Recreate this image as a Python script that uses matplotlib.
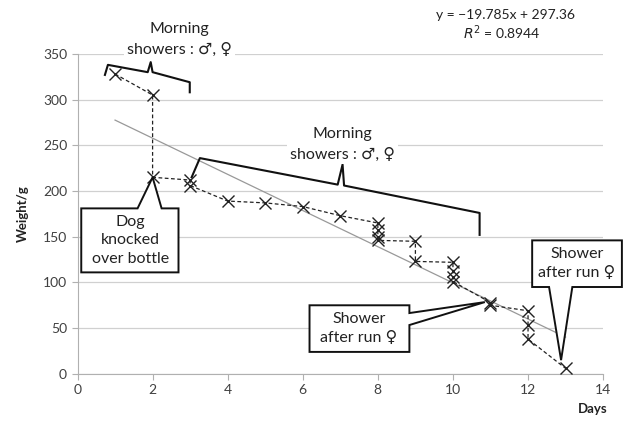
import matplotlib.pyplot as plt
from matplotlib.patches import Polygon

plt.rcParams["font.family"] = ["Lato", "DejaVu Sans"]

# 측정 데이터 (일, 무게)
days = [1, 2, 2, 3, 3, 4, 5, 6, 7, 8, 8, 8, 8, 9, 9, 10, 10, 10, 10, 11, 11, 12, 12, 12, 13]
weights = [328, 305, 215, 212, 206, 189, 187, 183, 173, 165, 157, 150, 146,
           145, 123, 122, 113, 106, 101, 78, 75, 69, 53, 38, 6]

# 추세선 계수
slope, intercept = -19.785, 297.36
trend_x = [1, 13]

xticks = [0, 2, 4, 6, 8, 10, 12, 14]
yticks = [0, 50, 100, 150, 200, 250, 300, 350]

fig = plt.figure(figsize=(6.25, 4.21), dpi=100)
ax = fig.add_axes([0.124, 0.112, 0.841, 0.76])

ax.plot(trend_x, [slope * x + intercept for x in trend_x], color="#999999", lw=0.9, zorder=2)
ax.plot(days, weights, color="#222222", ls=(0, (3, 2)), lw=0.9, marker="x",
        ms=8, mew=1.0, zorder=3)

ax.set_xlim(0, 14)
ax.set_ylim(0, 350)
ax.set_xticks(xticks)
ax.set_yticks(yticks)
ax.grid(axis="y", color="#d0d0d0", lw=0.9)
ax.set_axisbelow(True)
for s in ["top", "right"]:
    ax.spines[s].set_visible(False)
for s in ["left", "bottom"]:
    ax.spines[s].set_color("#b0b0b0")
ax.tick_params(colors="#b0b0b0", labelcolor="#404040", labelsize=10, length=4)

ax.set_ylabel("Weight/g", fontweight="bold", fontsize=9.5, color="#222222", labelpad=10)
fig.text(0.972, 0.02, "Days", fontweight="bold", fontsize=9.5, ha="right", color="#222222")

# 수식
ax.text(11.4, 392, "y = \u221219.785x + 297.36", fontsize=10, ha="center", va="center",
        color="#222222", clip_on=False)
ax.text(11.3, 373, "$R^2$ = 0.8944", fontsize=10, ha="center", va="center",
        color="#222222", clip_on=False)

# 중괄호 주석
txt_kw = dict(fontsize=11.5, ha="center", va="center", linespacing=1.6, color="#222222",
              bbox=dict(facecolor="white", edgecolor="none", pad=2), clip_on=False, zorder=5)
ax.text(2.72, 366, "Morning\nshowers : \u2642, \u2640", **txt_kw)
ax.text(7.06, 251, "Morning\nshowers : \u2642, \u2640", **txt_kw)

brace1 = [(0.73, 327), (0.81, 338), (1.87, 330), (1.95, 341), (2.0, 330), (2.99, 319), (2.99, 308)]
brace2 = [(3.04, 215), (3.26, 236), (6.93, 207), (7.06, 229), (7.1, 206), (10.71, 176), (10.71, 152)]
for b in (brace1, brace2):
    ax.plot([p[0] for p in b], [p[1] for p in b], color="#111111", lw=1.5,
            clip_on=False, zorder=4)

# 말풍선
callouts = [
    ([(0.1, 111), (0.1, 181), (1.6, 181), (2.0, 215), (2.24, 181), (2.69, 181), (2.69, 111)],
     (1.4, 146), "Dog\nknocked\nover bottle"),
    ([(6.18, 24), (6.18, 75), (8.84, 75), (8.84, 66.5), (10.85, 78.5), (8.84, 53.4), (8.84, 24)],
     (7.5, 49.5), "Shower\nafter run \u2640"),
    ([(12.11, 95), (12.11, 146), (14.5, 146), (14.5, 95), (13.18, 95), (12.88, 15), (12.56, 95)],
     (13.3, 120.5), "Shower\nafter run \u2640"),
]
for pts, (tx, ty), label in callouts:
    ax.add_patch(Polygon(pts, closed=True, facecolor="white", edgecolor="#111111",
                         lw=1.4, clip_on=False, zorder=6))
    ax.text(tx, ty, label, fontsize=11.5, ha="center", va="center", linespacing=1.4,
            color="#222222", zorder=7, clip_on=False)

fig.savefig("out.png", dpi=100)
